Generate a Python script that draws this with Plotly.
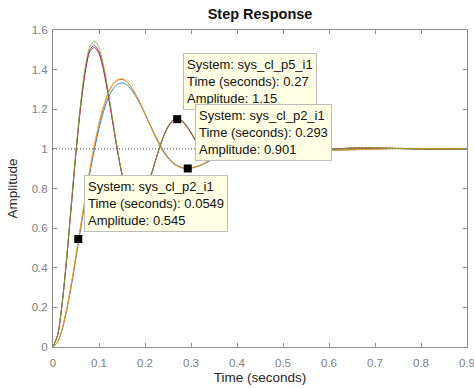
import plotly.graph_objects as go

# Sample times (s)
T = [0.00, 0.01, 0.02, 0.03, 0.04, 0.05, 0.06, 0.07, 0.08, 0.09,
     0.10, 0.11, 0.12, 0.13, 0.14, 0.15, 0.16, 0.17, 0.18, 0.19,
     0.20, 0.21, 0.22, 0.23, 0.24, 0.25, 0.26, 0.27, 0.28, 0.29,
     0.30, 0.31, 0.32, 0.33, 0.34, 0.35, 0.36, 0.37, 0.38, 0.39,
     0.40, 0.41, 0.42, 0.43, 0.44, 0.45, 0.46, 0.47, 0.48, 0.49,
     0.50, 0.55, 0.60, 0.65, 0.70, 0.75, 0.80, 0.85, 0.90]

# Step responses of the closed-loop systems (amplitude)
RESP_BLUE = [0, 0.024, 0.09, 0.19, 0.313, 0.452, 0.597, 0.74, 0.876, 0.998,
             1.103, 1.19, 1.256, 1.301, 1.326, 1.333, 1.324, 1.3, 1.265, 1.223,
             1.176, 1.127, 1.078, 1.032, 0.991, 0.958, 0.933, 0.916, 0.906, 0.902,
             0.903, 0.908, 0.916, 0.926, 0.938, 0.95, 0.963, 0.975, 0.986, 0.996,
             1.004, 1.01, 1.014, 1.017, 1.018, 1.018, 1.017, 1.015, 1.012, 1.009,
             1.006, 0.997, 0.994, 0.996, 1.0, 1.002, 1.002, 1.001, 1.0]

RESP_ORANGE = [0, 0.024, 0.09, 0.19, 0.315, 0.455, 0.602, 0.748, 0.887, 1.013,
               1.122, 1.211, 1.279, 1.324, 1.346, 1.351, 1.339, 1.311, 1.273, 1.228,
               1.178, 1.126, 1.075, 1.027, 0.985, 0.954, 0.93, 0.914, 0.905, 0.902,
               0.904, 0.91, 0.919, 0.93, 0.942, 0.954, 0.967, 0.979, 0.99, 0.999,
               1.007, 1.013, 1.017, 1.02, 1.021, 1.021, 1.02, 1.018, 1.015, 1.012,
               1.009, 0.999, 0.995, 0.996, 1.0, 1.002, 1.002, 1.001, 1.0]

RESP_YELLOW = [0, 0.025, 0.093, 0.196, 0.325, 0.468, 0.615, 0.76, 0.898, 1.022,
               1.13, 1.218, 1.284, 1.328, 1.35, 1.355, 1.342, 1.313, 1.274, 1.228,
               1.177, 1.124, 1.072, 1.024, 0.982, 0.952, 0.929, 0.913, 0.904, 0.901,
               0.903, 0.909, 0.918, 0.929, 0.941, 0.953, 0.966, 0.978, 0.989, 0.998,
               1.006, 1.012, 1.016, 1.019, 1.02, 1.02, 1.019, 1.017, 1.014, 1.011,
               1.008, 0.998, 0.994, 0.995, 0.999, 1.002, 1.002, 1.001, 1.0]

RESP_PURPLE = [0, 0.059, 0.222, 0.455, 0.72, 0.985, 1.215, 1.395, 1.5, 1.522,
               1.49, 1.405, 1.28, 1.135, 0.995, 0.872, 0.78, 0.722, 0.705, 0.72,
               0.77, 0.84, 0.918, 0.995, 1.062, 1.112, 1.142, 1.152, 1.142, 1.117,
               1.082, 1.042, 1.003, 0.973, 0.954, 0.944, 0.943, 0.946, 0.955, 0.967,
               0.981, 0.995, 1.008, 1.016, 1.021, 1.023, 1.021, 1.016, 1.01, 1.004,
               0.998, 0.993, 0.997, 1.004, 1.005, 1.002, 0.999, 0.999, 1.0]

RESP_RED = [0, 0.058, 0.22, 0.45, 0.715, 0.98, 1.21, 1.385, 1.49, 1.512,
            1.48, 1.395, 1.27, 1.13, 0.99, 0.87, 0.78, 0.725, 0.71, 0.725,
            0.775, 0.845, 0.92, 0.995, 1.06, 1.11, 1.14, 1.15, 1.14, 1.115,
            1.08, 1.04, 1.002, 0.972, 0.953, 0.944, 0.943, 0.947, 0.956, 0.968,
            0.982, 0.996, 1.008, 1.016, 1.021, 1.022, 1.02, 1.015, 1.009, 1.003,
            0.998, 0.994, 0.998, 1.004, 1.005, 1.002, 0.999, 0.999, 1.0]

RESP_GREEN = [0, 0.06, 0.225, 0.46, 0.73, 0.995, 1.23, 1.41, 1.515, 1.545,
              1.51, 1.42, 1.29, 1.145, 1.0, 0.875, 0.78, 0.72, 0.70, 0.715,
              0.765, 0.835, 0.915, 0.995, 1.065, 1.115, 1.145, 1.155, 1.145, 1.12,
              1.085, 1.045, 1.005, 0.975, 0.955, 0.945, 0.943, 0.946, 0.954, 0.966,
              0.98, 0.995, 1.008, 1.017, 1.022, 1.024, 1.022, 1.017, 1.011, 1.005,
              0.999, 0.993, 0.997, 1.004, 1.006, 1.003, 0.999, 0.999, 1.0]

# Data tips
TIP_SYS = ["sys_cl_p5_i1", "sys_cl_p2_i1", "sys_cl_p2_i1"]
TIP_T = [0.27, 0.293, 0.0549]
TIP_T_TXT = ["0.27", "0.293", "0.0549"]
TIP_A = [1.15, 0.901, 0.545]
TIP_A_TXT = ["1.15", "0.901", "0.545"]

X_TICKS = [0, 0.1, 0.2, 0.3, 0.4, 0.5, 0.6, 0.7, 0.8, 0.9]
X_LABELS = ["0", "0.1", "0.2", "0.3", "0.4", "0.5", "0.6", "0.7", "0.8", "0.9"]
Y_TICKS = [0, 0.2, 0.4, 0.6, 0.8, 1.0, 1.2, 1.4, 1.6]
Y_LABELS = ["0", "0.2", "0.4", "0.6", "0.8", "1", "1.2", "1.4", "1.6"]

FONT = "Liberation Sans, Arial, sans-serif"

series = [
    (RESP_BLUE, "#0072BD"),
    (RESP_ORANGE, "#D95319"),
    (RESP_PURPLE, "#7E2F8E"),
    (RESP_RED, "#A2142F"),
    (RESP_YELLOW, "#EDB120"),
    (RESP_GREEN, "#77AC30"),
]

fig = go.Figure()
for vals, col in series:
    fig.add_trace(go.Scatter(
        x=T, y=vals, mode="lines",
        line=dict(color=col, width=1.0, shape="spline", smoothing=0.8),
        opacity=0.85, hoverinfo="skip", showlegend=False,
    ))

fig.add_trace(go.Scatter(
    x=TIP_T, y=TIP_A, mode="markers",
    marker=dict(symbol="square", size=8, color="black"),
    hoverinfo="skip", showlegend=False,
))

# Steady-state reference line
fig.add_shape(type="line", xref="paper", x0=0, x1=1, yref="y", y0=1, y1=1,
              line=dict(color="#404040", width=1, dash="1px,2px"), layer="below")

shifts = [(6, 9), (7, 7), (6, 7)]
for i in range(len(TIP_T)):
    txt = (f"System: {TIP_SYS[i]}<br>Time (seconds): {TIP_T_TXT[i]}"
           f"<br>Amplitude: {TIP_A_TXT[i]}")
    fig.add_annotation(
        x=TIP_T[i], y=TIP_A[i], xref="x", yref="y", text=txt, showarrow=False,
        xanchor="left", yanchor="bottom", align="left",
        xshift=shifts[i][0], yshift=shifts[i][1],
        font=dict(family=FONT, size=13, color="#111111"),
        bgcolor="#FFFFE3", bordercolor="#BDBDBD", borderwidth=1, borderpad=3,
    )

axis_common = dict(
    showgrid=False, zeroline=False, showline=True, linecolor="#8C8C8C",
    linewidth=1, mirror="ticks", ticks="inside", ticklen=4, tickcolor="#8C8C8C",
    tickfont=dict(family=FONT, size=11.5, color="#808080"),
    ticklabeloverflow="allow", automargin=False,
)

fig.update_layout(
    width=474, height=388,
    margin=dict(l=53, r=7, t=30, b=41, autoexpand=False),
    paper_bgcolor="white", plot_bgcolor="white",
    title=dict(text="<b>Step Response</b>", x=0.5, xref="paper",
               y=1 - 14 / 388, yref="container", yanchor="middle",
               font=dict(family=FONT, size=14.5, color="#111111")),
    xaxis=dict(range=[0, 0.9], tickvals=X_TICKS, ticktext=X_LABELS,
               ticklabelstandoff=5,
               title=dict(text="Time (seconds)", standoff=4,
                          font=dict(family=FONT, size=13.5, color="#262626")),
               **axis_common),
    yaxis=dict(range=[0, 1.6], tickvals=Y_TICKS, ticktext=Y_LABELS,
               ticklabelstandoff=2,
               title=dict(text="Amplitude", standoff=10,
                          font=dict(family=FONT, size=13.5, color="#262626")),
               **axis_common),
)

fig.write_html("out.html")
